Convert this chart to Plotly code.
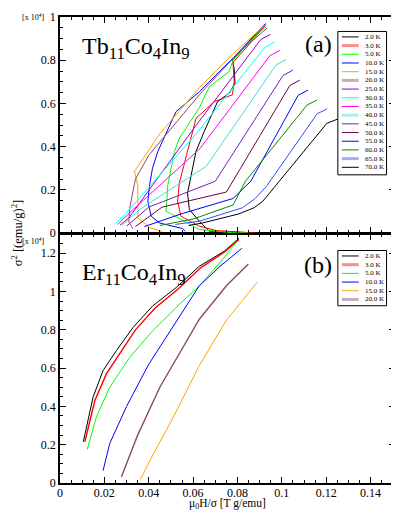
import plotly.graph_objects as go

# ---- (a) Tb11Co4In9 : Arrott plot, sigma^2 in units of 1e4 (emu/g)^2 ----
tb_temps = ["2.0 K", "3.0 K", "5.0 K", "10.0 K", "15.0 K", "20.0 K", "25.0 K", "30.0 K",
            "35.0 K", "40.0 K", "45.0 K", "50.0 K", "55.0 K", "60.0 K", "65.0 K", "70.0 K"]
tb_colors = ["#000000", "#ff0000", "#00ff00", "#0000ff", "#ffa500", "#8b4a6b", "#9400d3", "#00ffff",
             "#ff00ff", "#40e0d0", "#7221bc", "#670748", "#0000ff", "#008b00", "#3050ff", "#000000"]
# entries drawn with a wider, paler line in the legend boxes
tb_wide = [False, True, False, False, False, True, False, False,
           False, True, False, False, False, False, True, False]
tb_x = [
    [0.0897, 0.085, 0.0673, 0.0628, 0.0583, 0.0575, 0.0613, 0.065, 0.071, 0.0762, 0.0789, 0.0785, 0.0777, 0.085, 0.0927],
    [0.089, 0.0845, 0.0703, 0.0628, 0.0545, 0.053, 0.0538, 0.0575, 0.0613, 0.0695, 0.0777, 0.0785, 0.078, 0.085, 0.0925],
    [0.085, 0.0777, 0.0628, 0.05, 0.0478, 0.0486, 0.0516, 0.0538, 0.0568, 0.0628, 0.0673, 0.0762, 0.078, 0.0882, 0.093],
    [0.0565, 0.0553, 0.0448, 0.0411, 0.0396, 0.0404, 0.0417, 0.0441, 0.0523, 0.0628, 0.078, 0.0927],
    [0.046, 0.0404, 0.0351, 0.0351, 0.0351, 0.0336, 0.045, 0.0628, 0.078, 0.0927],
    [0.033, 0.031, 0.0315, 0.034, 0.04, 0.0628, 0.08, 0.0934],
    [0.027, 0.031, 0.06, 0.0904, 0.0949],
    [0.025, 0.0296, 0.0614, 0.0924, 0.0969],
    [0.026, 0.032, 0.063, 0.0946, 0.0991],
    [0.028, 0.036, 0.066, 0.0974, 0.1019],
    [0.030, 0.040, 0.07, 0.1005, 0.105],
    [0.034, 0.046, 0.075, 0.1036, 0.1081],
    [0.038, 0.055, 0.078, 0.086, 0.1073, 0.1118],
    [0.045, 0.06, 0.078, 0.0836, 0.1114, 0.1159],
    [0.052, 0.0628, 0.0822, 0.088, 0.0933, 0.1159, 0.1204],
    [0.058, 0.0643, 0.0807, 0.0874, 0.0914, 0.1203, 0.127],
]
tb_y = [
    [0.001, 0.002, 0.009, 0.055, 0.109, 0.186, 0.378, 0.47, 0.608, 0.647, 0.693, 0.762, 0.80, 0.88, 0.965],
    [0.0, 0.0014, 0.012, 0.032, 0.078, 0.147, 0.232, 0.378, 0.531, 0.608, 0.64, 0.70, 0.79, 0.87, 0.96],
    [0.0, 0.0015, 0.017, 0.086, 0.101, 0.224, 0.378, 0.439, 0.485, 0.58, 0.677, 0.747, 0.80, 0.915, 0.955],
    [0.009, 0.021, 0.047, 0.078, 0.147, 0.224, 0.30, 0.378, 0.562, 0.654, 0.81, 0.97],
    [0.008, 0.025, 0.07, 0.15, 0.217, 0.286, 0.46, 0.673, 0.83, 0.965],
    [0.02, 0.05, 0.12, 0.25, 0.36, 0.64, 0.83, 0.949],
    [0.036, 0.07, 0.48, 0.895, 0.92],
    [0.043, 0.09, 0.46, 0.86, 0.885],
    [0.04, 0.10, 0.39, 0.821, 0.846],
    [0.036, 0.11, 0.31, 0.778, 0.803],
    [0.032, 0.12, 0.24, 0.729, 0.754],
    [0.03, 0.12, 0.19, 0.683, 0.708],
    [0.03, 0.09, 0.16, 0.24, 0.637, 0.662],
    [0.035, 0.065, 0.13, 0.24, 0.593, 0.616],
    [0.04, 0.055, 0.117, 0.16, 0.22, 0.552, 0.575],
    [0.035, 0.047, 0.089, 0.117, 0.147, 0.508, 0.535],
]

# ---- (b) Er11Co4In9 ----
er_temps = ["2.0 K", "3.0 K", "5.0 K", "10.0 K", "15.0 K", "20.0 K"]
er_colors = ["#000000", "#ff0000", "#00ff00", "#0000ff", "#ffa500", "#8b4a6b"]
er_wide = [False, True, False, False, False, True]
er_x = [
    [0.0105, 0.0149, 0.0194, 0.0254, 0.0329, 0.0418, 0.0523, 0.0628, 0.074, 0.0807],
    [0.0112, 0.0157, 0.0209, 0.027, 0.034, 0.043, 0.053, 0.0635, 0.074, 0.0807],
    [0.0123, 0.0164, 0.0224, 0.0314, 0.0418, 0.0538, 0.0628, 0.072, 0.0798],
    [0.0194, 0.0224, 0.03, 0.04, 0.05, 0.0628, 0.072, 0.082],
    [0.0362, 0.042, 0.05, 0.0628, 0.075, 0.0889],
    [0.0277, 0.035, 0.045, 0.0628, 0.075, 0.0849],
]
er_y = [
    [0.215, 0.448, 0.587, 0.691, 0.812, 0.925, 1.02, 1.132, 1.21, 1.278],
    [0.215, 0.431, 0.57, 0.68, 0.80, 0.915, 1.01, 1.125, 1.205, 1.272],
    [0.176, 0.345, 0.50, 0.656, 0.795, 0.933, 1.029, 1.15, 1.262],
    [0.064, 0.206, 0.40, 0.62, 0.80, 1.03, 1.13, 1.226],
    [0.019, 0.15, 0.32, 0.613, 0.85, 1.049],
    [0.033, 0.25, 0.50, 0.855, 1.03, 1.144],
]

# the page puts the plot 8 px in from the top-left corner of the window
OFF = 8
W, H = 399 - OFF, 513 - OFF
ML, MR, MT, MB = 60 - OFF, 2, 15 - OFF, 30
PW, PH = W - ML - MR, H - MT - MB


def paper(px, py):
    # px, py are window pixels
    return (px - OFF - ML) / PW, (H - MB - (py - OFF)) / PH


FONT = "Liberation Serif"
fig = go.Figure()

for t, c, xs, ys in zip(tb_temps, tb_colors, tb_x, tb_y):
    fig.add_trace(go.Scatter(x=xs, y=ys, mode="lines", name=t, line=dict(color=c, width=1),
                             xaxis="x2", yaxis="y2", showlegend=False))
for t, c, w, xs, ys in zip(er_temps, er_colors, er_wide, er_x, er_y):
    fig.add_trace(go.Scatter(x=xs, y=ys, mode="lines", name=t, line=dict(color=c, width=1.4 if w else 1),
                             xaxis="x", yaxis="y", showlegend=False))

axis_common = dict(showline=True, linecolor="black", linewidth=1.5, mirror="ticks",
                   ticks="inside", ticklen=6, tickwidth=1, tickcolor="black",
                   showgrid=False, zeroline=False,
                   tickfont=dict(family=FONT, size=12, color="black"))

fig.update_layout(
    width=W, height=H,
    margin=dict(l=ML, r=MR, t=MT, b=MB),
    paper_bgcolor="white", plot_bgcolor="white",
    font=dict(family=FONT, color="black"),
    xaxis=dict(range=[0, 0.151], dtick=0.02, anchor="y", ticklabelstandoff=-2,
               minor=dict(ticks="inside", ticklen=3, dtick=0.005, tickcolor="black"), **axis_common),
    yaxis=dict(range=[0, 1.3], dtick=0.2, domain=[0, 0.5342], anchor="x",
               minor=dict(ticks="inside", ticklen=3, dtick=0.05, tickcolor="black"), **axis_common),
    xaxis2=dict(range=[0, 0.151], dtick=0.02, anchor="y2", matches="x", showticklabels=False,
                minor=dict(ticks="inside", ticklen=3, dtick=0.005, tickcolor="black"), **axis_common),
    yaxis2=dict(range=[0, 1], dtick=0.2, domain=[0.5363, 1], anchor="x2",
                minor=dict(ticks="inside", ticklen=3, dtick=0.05, tickcolor="black"), **axis_common),
)

ann = []


def text(px, py, s, size, xanchor="center", angle=0, yanchor="middle"):
    x, y = paper(px, py)
    ann.append(dict(x=x, y=y, xref="paper", yref="paper", text=s, showarrow=False,
                    xanchor=xanchor, yanchor=yanchor, textangle=angle,
                    font=dict(family=FONT, size=size, color="black")))


text(80, 46, "Tb<sub>11</sub>Co<sub>4</sub>In<sub>9</sub>", 24, "left")
text(320, 42, "(a)", 24)
text(80, 273, "Er<sub>11</sub>Co<sub>4</sub>In<sub>9</sub>", 24, "left")
text(320, 264, "(b)", 24)
text(33, 8, "[x 10<sup>4</sup>]", 8, yanchor="top")
text(33, 233, "[x 10<sup>4</sup>]", 8, yanchor="top")
text(17, 232, "σ<sup>2</sup> [(emu/g)<sup>2</sup>]", 12.5, angle=-90)
text(228, 513, "μ<sub>0</sub>H/σ [T g/emu]", 11.5, yanchor="bottom")

shapes = []


def legend_box(x0, y0, x1, y1, temps, colors, wide, first_y, step):
    a0, b0 = paper(x0, y0)
    a1, b1 = paper(x1, y1)
    shapes.append(dict(type="rect", xref="paper", yref="paper", x0=a0, y0=b0, x1=a1, y1=b1,
                       fillcolor="white", line=dict(color="black", width=1), layer="above"))
    for i, (t, c, w) in enumerate(zip(temps, colors, wide)):
        py = first_y + i * step
        la, lb = paper(343.5, py)
        lc, _ = paper(360.5, py)
        shapes.append(dict(type="line", xref="paper", yref="paper", x0=la, y0=lb, x1=lc, y1=lb,
                           line=dict(color=c, width=3 if w else 1), opacity=0.45 if w else 1,
                           layer="above"))
        text(365, py, t, 7, "left")


legend_box(339.5, 29.5, 388.5, 173.5, tb_temps, tb_colors, tb_wide, 35, 8.73)
legend_box(339.5, 249.5, 388.5, 305, er_temps, er_colors, er_wide, 255, 8.73)

fig.update_layout(annotations=ann, shapes=shapes)
fig.write_html("out.html")
